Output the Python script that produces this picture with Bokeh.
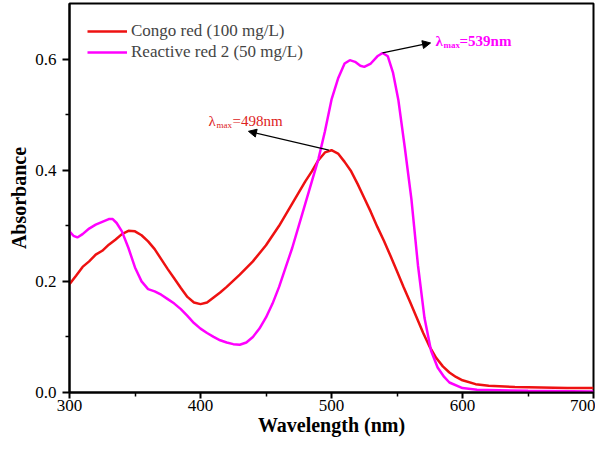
from bokeh.plotting import figure
from bokeh.models import Legend, LegendItem, Label, Arrow, NormalHead, FixedTicker, Range1d
from bokeh.embed import file_html
from bokeh.resources import INLINE

# Congo red (100 mg/L)
congo_wl = [300, 305, 310, 315, 320, 325, 330, 335, 340, 345, 350, 355, 360, 365, 370,
            375, 380, 385, 390, 395, 400, 405, 410, 415, 420, 430, 440, 450, 460, 470,
            480, 485, 490, 495, 500, 505, 510, 515, 520, 525, 530, 535, 540, 545, 550,
            555, 560, 565, 570, 575, 580, 585, 590, 595, 600, 610, 620, 640, 660, 680, 700]
congo_abs = [0.195, 0.210, 0.226, 0.236, 0.248, 0.255, 0.266, 0.275, 0.285, 0.291, 0.290,
             0.283, 0.272, 0.258, 0.240, 0.222, 0.205, 0.188, 0.172, 0.162, 0.159, 0.162,
             0.171, 0.180, 0.190, 0.212, 0.236, 0.265, 0.300, 0.340, 0.380, 0.398, 0.418,
             0.432, 0.436, 0.430, 0.415, 0.398, 0.375, 0.350, 0.325, 0.298, 0.273, 0.246,
             0.218, 0.190, 0.163, 0.135, 0.107, 0.082, 0.062, 0.047, 0.036, 0.028, 0.022,
             0.015, 0.012, 0.010, 0.009, 0.008, 0.008]

# Reactive red 2 (50 mg/L)
rr2_wl = [300, 303, 306, 310, 315, 320, 325, 330, 333, 336, 340, 345, 350, 355, 360, 365,
          370, 375, 380, 385, 390, 395, 400, 405, 410, 415, 420, 425, 430, 435, 440, 445,
          450, 455, 460, 465, 470, 475, 480, 485, 490, 495, 500, 505, 510, 514, 518, 522,
          525, 530, 535, 539, 543, 547, 551, 556, 561, 566, 571, 576, 581, 586, 590, 600,
          611, 650, 700]
rr2_abs = [0.290, 0.282, 0.279, 0.285, 0.295, 0.302, 0.307, 0.312, 0.312, 0.305, 0.290,
           0.260, 0.225, 0.200, 0.186, 0.182, 0.176, 0.168, 0.160, 0.150, 0.138, 0.125,
           0.115, 0.107, 0.100, 0.094, 0.090, 0.087, 0.086, 0.090, 0.100, 0.115, 0.135,
           0.160, 0.190, 0.225, 0.260, 0.300, 0.340, 0.380, 0.420, 0.470, 0.527, 0.565,
           0.592, 0.598, 0.595, 0.588, 0.586, 0.592, 0.605, 0.611, 0.605, 0.575, 0.527,
           0.440, 0.348, 0.229, 0.134, 0.075, 0.045, 0.028, 0.018, 0.008, 0.005, 0.003, 0.002]

series_names = ["Congo red (100 mg/L)", "Reactive red 2 (50 mg/L)"]
peak_wl = [498, 539]
peak_abs = [0.436, 0.611]

x_ticks = [300, 400, 500, 600, 700]
x_minor = [350, 450, 550, 650]
y_ticks = [0.0, 0.2, 0.4, 0.6]
y_tick_labels = ["0.0", "0.2", "0.4", "0.6"]
y_minor = [0.1, 0.3, 0.5]

FONT = "Liberation Serif"
RED = "#ee1111"
MAG = "#ff00ff"

p = figure(width=595, height=438, x_range=Range1d(300, 700), y_range=Range1d(0, 0.7),
           output_backend="svg", toolbar_location=None,
           min_border_left=69, min_border_right=2, min_border_top=3, min_border_bottom=46)

p.xgrid.visible = False
p.ygrid.visible = False
p.outline_line_color = "black"
p.outline_line_width = 2
p.outline_line_alpha = 1.0

p.xaxis.ticker = FixedTicker(ticks=x_ticks, minor_ticks=x_minor)
p.yaxis.ticker = FixedTicker(ticks=y_ticks, minor_ticks=y_minor)
p.yaxis.major_label_overrides = {v: s for v, s in zip(y_ticks, y_tick_labels)}

for ax in (p.xaxis, p.yaxis):
    ax.axis_line_width = 2
    ax.major_tick_line_width = 2
    ax.minor_tick_line_width = 1.5
    ax.major_tick_in = 0
    ax.minor_tick_in = 0
    ax.minor_tick_out = 4
    ax.major_label_text_font = FONT
    ax.major_label_text_font_size = "17px"
    ax.major_label_text_color = "black"
    ax.axis_label_text_font = FONT
    ax.axis_label_text_font_size = "20px"
    ax.axis_label_text_font_style = "bold"
    ax.axis_label_text_color = "black"

p.xaxis.axis_label = "Wavelength (nm)"
p.yaxis.axis_label = "Absorbance"
p.xaxis.major_tick_out = 6
p.xaxis.major_label_standoff = 1
p.xaxis.axis_label_standoff = 0
p.yaxis.major_tick_out = 7
p.yaxis.major_label_standoff = 6
p.yaxis.axis_label_standoff = 2

r1 = p.line(congo_wl, congo_abs, line_color=RED, line_width=2.5)
r2 = p.line(rr2_wl, rr2_abs, line_color=MAG, line_width=2.5)

legend = Legend(items=[LegendItem(label=series_names[0], renderers=[r1]),
                       LegendItem(label=series_names[1], renderers=[r2])],
                location=(18, 330), label_text_font=FONT, label_text_font_size="17px",
                glyph_width=40, glyph_height=20, label_height=20, spacing=1, padding=4,
                margin=0, border_line_color=None, background_fill_alpha=0, label_standoff=4)
p.add_layout(legend)

# arrows
p.add_layout(Arrow(end=NormalHead(size=8, fill_color="black", line_color="black"),
                   x_start=peak_wl[1], y_start=peak_abs[1], x_end=575.6, y_end=0.629,
                   line_width=1.2, line_color="black"))
p.add_layout(Arrow(end=NormalHead(size=8, fill_color="black", line_color="black"),
                   x_start=peak_wl[0], y_start=peak_abs[0], x_end=436.6, y_end=0.470,
                   line_width=1.2, line_color="black"))


def lam_label(x, y, wl, color, weight, dx_max, dx_eq):
    kw = dict(text_font=FONT, text_color=color, text_font_style=weight, text_baseline="middle")
    p.add_layout(Label(x=x, y=y, text="λ", text_font_size="15px", **kw))
    p.add_layout(Label(x=x, y=y, x_offset=dx_max, y_offset=-4, text="max",
                       text_font_size="9px", **kw))
    p.add_layout(Label(x=x, y=y, x_offset=dx_eq, text="=%dnm" % wl, text_font_size="15px", **kw))


lam_label(579.4, 0.633, peak_wl[1], MAG, "bold", 8, 24)
lam_label(406.1, 0.488, peak_wl[0], "#dd2222", "normal", 8, 24)

open("out.html", "w").write(file_html(p, INLINE))
